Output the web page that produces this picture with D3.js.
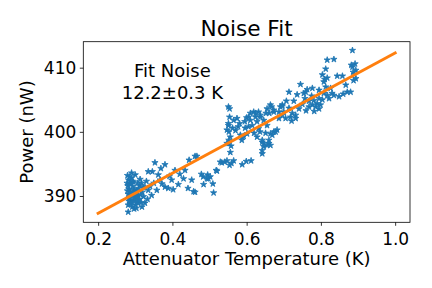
<!DOCTYPE html>
<html>
<head>
<meta charset="utf-8">
<script src="https://cdn.jsdelivr.net/npm/d3@7"></script>
<style>
  body { margin: 0; background: #fff; }
  svg { font-family: "DejaVu Sans", sans-serif; }
</style>
</head>
<body>
<svg width="432" height="288"></svg>
<script>
// measured data (attenuator temperature K, power nW)
const temps = [
  0.281,0.281,0.286,0.279,0.282,0.285,0.280,0.283,0.287,0.281,0.284,0.288,0.291,0.286,0.293,0.296,0.290,0.295,0.299,0.302,
  0.298,0.305,0.301,0.308,0.311,0.314,0.309,0.306,0.300,0.290,0.283,0.292,0.297,0.303,0.316,0.319,0.322,0.288,0.294,0.278,
  0.279,0.284,0.289,0.292,0.296,0.300,0.304,0.307,0.312,0.313,0.317,0.335,0.346,0.353,0.369,0.380,0.367,0.380,0.389,0.398,
  0.407,0.416,0.430,0.434,0.442,0.452,0.457,0.445,0.461,0.335,0.344,0.358,0.322,0.308,0.304,0.326,0.330,0.340,0.350,0.362,
  0.372,0.392,0.402,0.420,0.326,0.318,0.333,0.466,0.533,0.547,0.554,0.565,0.588,0.612,0.478,0.493,0.502,0.520,0.484,0.511,
  0.461,0.529,0.541,0.559,0.599,0.518,0.495,0.483,0.497,0.509,
  0.552,0.556,0.552,0.588,0.601,0.551,0.554,0.551,0.565,0.574,0.577,0.554,0.551,0.547,0.552,0.547,0.583,0.592,0.587,0.558,
  0.562,0.570,0.581,0.595,0.600,0.596,0.556,
  0.605,0.610,0.619,0.624,0.628,0.637,0.646,0.652,0.667,0.673,0.605,0.615,0.632,0.655,0.610,0.624,0.637,0.632,0.655,0.664,
  0.673,0.691,0.696,0.661,0.687,0.700,0.718,0.723,0.732,0.642,0.646,0.655,0.660,0.664,0.673,0.642,0.642,0.646,0.642,0.660,
  0.664,0.669,0.651,0.678,0.620,0.628,0.636,
  0.714,0.745,0.754,0.763,0.736,0.759,0.777,0.795,0.727,0.757,0.768,0.781,0.790,0.799,0.795,0.777,0.696,0.714,0.741,0.768,
  0.786,0.795,0.696,0.732,0.687,0.705,0.721,0.682,0.750,0.775,0.707,0.760,0.782,
  0.885,0.817,0.835,0.813,0.892,0.885,0.894,0.887,0.804,0.817,0.844,0.858,0.894,0.808,0.813,0.826,0.867,0.871,0.880,0.808,
  0.817,0.822,0.835,0.849,0.890,0.882,0.888,0.810,0.830,0.804,0.860
];
const powers = [
  387.5,388.6,388.9,393.2,392.5,392.0,391.6,391.1,390.7,390.3,389.8,389.4,389.0,388.7,391.5,390.9,392.8,392.2,391.0,390.4,
  389.6,389.1,388.6,388.9,389.5,390.2,391.2,392.0,393.3,393.6,389.2,388.3,388.0,388.1,389.0,390.6,391.3,391.9,390.1,392.0,
  390.8,393.0,390.2,392.3,389.2,389.9,390.8,390.0,391.6,392.6,392.0,393.8,393.8,395.2,394.3,394.9,392.5,391.4,391.2,392.5,
  394.0,391.8,392.7,394.0,391.2,392.5,390.7,395.6,396.2,390.9,390.1,390.9,389.9,389.4,390.1,391.4,392.3,391.5,392.0,393.3,
  391.9,393.1,391.0,393.4,388.9,388.3,389.5,396.2,395.2,395.5,394.8,395.5,394.9,395.5,393.4,392.7,393.0,393.9,391.8,390.5,
  390.6,395.3,395.3,395.1,395.4,394.0,393.3,393.0,392.7,391.9,
  400.0,399.2,398.2,399.2,399.7,403.9,402.3,401.0,401.8,402.1,400.8,403.6,401.3,400.3,398.7,398.2,399.5,399.3,398.7,397.8,
  400.6,400.2,401.3,401.6,402.2,400.6,396.8,
  402.3,401.8,403.1,402.3,401.6,402.6,401.8,402.9,403.9,403.1,400.8,401.0,400.5,401.0,402.9,402.9,402.3,403.1,403.6,404.2,
  403.4,403.9,404.2,402.9,403.1,403.1,402.3,402.9,402.1,398.4,397.7,397.9,398.2,399.7,400.0,397.1,398.7,398.2,396.6,398.7,
  397.9,399.5,399.8,400.0,399.8,399.2,400.0,
  406.2,407.4,406.0,406.6,405.8,406.2,406.8,406.5,404.8,405.2,404.8,404.9,404.4,404.2,405.2,404.2,404.0,403.7,403.6,403.9,
  403.9,403.6,402.6,402.6,402.1,402.1,401.7,400.3,404.3,405.6,404.8,403.3,403.2,
  412.7,411.2,411.3,409.8,410.6,410.1,409.6,409.3,408.9,408.4,408.7,408.7,408.3,407.8,407.0,406.8,407.3,406.2,406.2,406.0,
  405.7,405.2,405.7,405.5,409.0,410.4,408.0,408.2,406.0,405.0,405.9
];

// linear fit
const fitTemps = [0.2, 1.0];
const fitPowers = [387.3, 412.3];

const xTicks = [0.2, 0.4, 0.6, 0.8, 1.0];
const yTicks = [390, 400, 410];
const fitLines = ['Fit Noise', '12.2\u00b10.3 K'];

const svg = d3.select('svg');

const plotLeft = 83.3, plotRight = 410, plotTop = 41.7, plotBottom = 222.3;

const x = d3.scaleLinear().domain([0.16, 1.04]).range([plotLeft, plotRight]);
const y = d3.scaleLinear().domain([385.9, 414.05]).range([plotBottom, plotTop]);

// star marker, like matplotlib '*'
const starPath = (R) => {
  const r = R * 0.381966;
  const pts = [];
  for (let i = 0; i < 10; i++) {
    const a = -Math.PI / 2 + i * Math.PI / 5;
    const rr = i % 2 === 0 ? R : r;
    pts.push([rr * Math.cos(a), rr * Math.sin(a)]);
  }
  return 'M' + pts.map(p => p[0].toFixed(2) + ',' + p[1].toFixed(2)).join('L') + 'Z';
};
const star = starPath(3.3);

svg.append('g')
  .selectAll('path')
  .data(temps.map((t, i) => [t, powers[i]]))
  .join('path')
    .attr('d', star)
    .attr('transform', d => `translate(${x(d[0])},${y(d[1])})`)
    .attr('fill', '#1f77b4')
    .attr('stroke', '#1f77b4')
    .attr('stroke-width', 0.8)
    .attr('stroke-linejoin', 'miter');

const line = d3.line()
  .x(d => x(d[0]))
  .y(d => y(d[1]));

svg.append('path')
  .datum(fitTemps.map((t, i) => [t, fitPowers[i]]))
  .attr('d', line)
  .attr('fill', 'none')
  .attr('stroke', '#ff7f0e')
  .attr('stroke-width', 3)
  .attr('stroke-linecap', 'square');

// frame
svg.append('rect')
  .attr('x', plotLeft)
  .attr('y', plotTop)
  .attr('width', plotRight - plotLeft)
  .attr('height', plotBottom - plotTop)
  .attr('fill', 'none')
  .attr('stroke', '#000')
  .attr('stroke-width', 0.8);

const xAxis = svg.append('g')
  .attr('transform', `translate(0, ${plotBottom})`)
  .call(d3.axisBottom(x).tickValues(xTicks).tickFormat(d3.format('.1f')).tickSizeOuter(0).tickSize(3.5).tickPadding(3.5));

const yAxis = svg.append('g')
  .attr('transform', `translate(${plotLeft}, 0)`)
  .call(d3.axisLeft(y).tickValues(yTicks).tickFormat(d3.format('d')).tickSizeOuter(0).tickSize(3.5).tickPadding(3.5));

[xAxis, yAxis].forEach(a => {
  a.select('.domain').remove();
  a.selectAll('line').attr('stroke', '#000').attr('stroke-width', 0.8);
  a.selectAll('text')
    .attr('fill', '#000')
    .style('font-family', '"DejaVu Sans", sans-serif')
    .style('font-size', '17px');
});
xAxis.selectAll('text').attr('dy', '0.95em');

svg.append('text')
  .attr('x', (plotLeft + plotRight) / 2)
  .attr('y', 35.7)
  .attr('text-anchor', 'middle')
  .style('font-size', '21.6px')
  .text('Noise Fit');

svg.append('text')
  .attr('x', (plotLeft + plotRight) / 2)
  .attr('y', 265)
  .attr('text-anchor', 'middle')
  .style('font-size', '18px')
  .text('Attenuator Temperature (K)');

svg.append('text')
  .attr('transform', `translate(33, ${(plotTop + plotBottom) / 2}) rotate(-90)`)
  .attr('text-anchor', 'middle')
  .style('font-size', '18px')
  .text('Power (nW)');

svg.append('g')
  .selectAll('text')
  .data(fitLines)
  .join('text')
    .attr('x', x(0.4))
    .attr('y', (d, i) => 77 + i * 22)
    .attr('text-anchor', 'middle')
    .style('font-size', '18px')
    .text(d => d);
</script>
</body>
</html>
